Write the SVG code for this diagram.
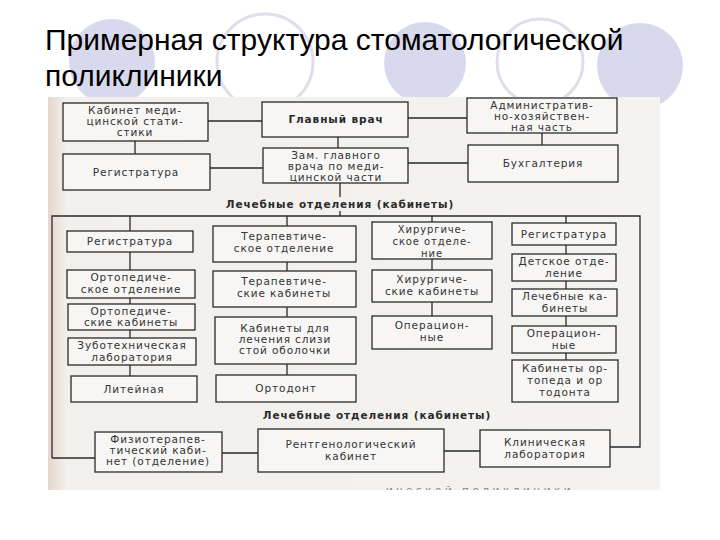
<svg xmlns="http://www.w3.org/2000/svg" width="720" height="540" viewBox="0 0 720 540">
<defs>
<style>
.bx{fill:#f7f6f4;stroke:#2a2a2a;stroke-width:1.3}
.t{font-family:"DejaVu Sans",sans-serif;font-size:10.5px;fill:#333;text-anchor:middle;letter-spacing:0.9px}
.s{font-size:10px}
.b{font-family:"DejaVu Sans",sans-serif;font-size:10.5px;font-weight:bold;fill:#2a2a2a;text-anchor:middle;letter-spacing:0.9px}
.ln{fill:none;stroke:#2a2a2a;stroke-width:1.3}
.fc{fill:#d9d9ee}
.oc{fill:none;stroke:#dedeec;stroke-width:3}
</style>
<linearGradient id="scan" x1="0" y1="0" x2="1" y2="0">
<stop offset="0" stop-color="#e7d6ce"/>
<stop offset="0.03" stop-color="#f2efec"/>
<stop offset="1" stop-color="#f4f3f1"/>
</linearGradient>
<clipPath id="cut"><rect x="48" y="97" width="612" height="393"/></clipPath>
</defs>
<rect width="720" height="540" fill="#ffffff"/>
<g id="decor">
<circle class="fc" cx="112" cy="62" r="43"/>
<circle class="oc" cx="265" cy="62" r="48"/>
<circle class="fc" cx="425" cy="63" r="41"/>
<circle class="oc" cx="540" cy="62" r="43"/>
<circle class="fc" cx="640" cy="66" r="43"/>
</g>
<g id="title" font-family="'Liberation Sans',Arial,sans-serif" font-size="30" fill="#000">
<text x="45" y="50">Примерная структура стоматологической</text>
<text x="45" y="86">поликлиники</text>
</g>
<rect x="48" y="97" width="612" height="393" fill="url(#scan)"/>
<g id="connectors">
<path class="ln" d="M208,121 H262 M135,141 V154 M210,168 H263 M338,137 V148 M408,118 H467 M542,133 V145 M408,163 H468 M340,183 V197 M340,211 V216"/>
<path class="ln" d="M52,458 V216 H640 V447 H610 M52,458 H95"/>
<path class="ln" d="M130,216 V231 M287,216 V226 M432,216 V222 M566,216 V223"/>
<path class="ln" d="M130,252 V270 M130,298 V304 M130,330 V338 M130,365 V376"/>
<path class="ln" d="M287,262 V271 M287,307 V317 M287,364 V375"/>
<path class="ln" d="M432,259 V270 M432,302 V316"/>
<path class="ln" d="M566,245 V254 M566,281 V289 M566,316 V326 M566,353 V360"/>
<path class="ln" d="M222,453 H258 M444,451 H480"/>
</g>
<g id="med_stat"><rect class="bx" x="63" y="103" width="145" height="38"/><text class="t" x="135" y="114">Кабинет меди-</text><text class="t" x="135" y="125">цинской стати-</text><text class="t" x="135" y="136">стики</text></g>
<g id="reg_top"><rect class="bx" x="63" y="154" width="147" height="36"/><text class="t" x="136" y="176">Регистратура</text></g>
<g id="glav"><rect class="bx" x="262" y="102" width="146" height="35"/><text class="b" x="336" y="123">Главный врач</text></g>
<g id="zam"><rect class="bx" x="263" y="148" width="145" height="35"/><text class="t" x="336" y="159">Зам. главного</text><text class="t" x="336" y="170">врача по меди-</text><text class="t" x="336" y="181">цинской части</text></g>
<g id="admin"><rect class="bx" x="467" y="98" width="150" height="35"/><text class="t" x="542" y="109">Административ-</text><text class="t" x="542" y="120">но-хозяйствен-</text><text class="t" x="542" y="131">ная часть</text></g>
<g id="buh"><rect class="bx" x="468" y="145" width="150" height="37"/><text class="t" x="543" y="167">Бухгалтерия</text></g>
<text id="label1" class="b" x="340" y="208">Лечебные отделения (кабинеты)</text>
<g id="c1_reg"><rect class="bx" x="67" y="231" width="126" height="21"/><text class="t" x="130" y="245">Регистратура</text></g>
<g id="c1_ortdep"><rect class="bx" x="67" y="270" width="128" height="28"/><text class="t" x="131" y="281">Ортопедиче-</text><text class="t" x="131" y="293">ское отделение</text></g>
<g id="c1_ortcab"><rect class="bx" x="68" y="304" width="127" height="26"/><text class="t" x="131" y="315">Ортопедиче-</text><text class="t" x="131" y="326">ские кабинеты</text></g>
<g id="c1_zubo"><rect class="bx" x="68" y="338" width="128" height="27"/><text class="t" x="132" y="349">Зуботехническая</text><text class="t" x="132" y="361">лаборатория</text></g>
<g id="c1_lit"><rect class="bx" x="71" y="376" width="126" height="26"/><text class="t" x="134" y="393">Литейная</text></g>
<g id="c2_terdep"><rect class="bx" x="213" y="226" width="143" height="36"/><text class="t" x="284" y="240">Терапевтиче-</text><text class="t" x="284" y="252">ское отделение</text></g>
<g id="c2_tercab"><rect class="bx" x="213" y="271" width="143" height="36"/><text class="t" x="284" y="285">Терапевтиче-</text><text class="t" x="284" y="297">ские кабинеты</text></g>
<g id="c2_sliz"><rect class="bx" x="215" y="317" width="141" height="47"/><text class="t" x="285" y="332">Кабинеты для</text><text class="t" x="285" y="343">лечения слизи</text><text class="t" x="285" y="354">стой оболочки</text></g>
<g id="c2_ortodont"><rect class="bx" x="216" y="375" width="140" height="27"/><text class="t" x="286" y="392">Ортодонт</text></g>
<g id="c3_hirdep"><rect class="bx" x="372" y="222" width="120" height="37"/><text class="t s" x="432" y="233">Хирургиче-</text><text class="t s" x="432" y="245">ское отделе-</text><text class="t s" x="432" y="257">ние</text></g>
<g id="c3_hircab"><rect class="bx" x="372" y="270" width="120" height="32"/><text class="t" x="432" y="283">Хирургиче-</text><text class="t" x="432" y="295">ские кабинеты</text></g>
<g id="c3_oper"><rect class="bx" x="372" y="316" width="120" height="33"/><text class="t" x="432" y="329">Операцион-</text><text class="t" x="432" y="341">ные</text></g>
<g id="c4_reg"><rect class="bx" x="512" y="223" width="104" height="22"/><text class="t" x="564" y="238">Регистратура</text></g>
<g id="c4_det"><rect class="bx" x="512" y="254" width="104" height="27"/><text class="t" x="564" y="265">Детское отде-</text><text class="t" x="564" y="277">ление</text></g>
<g id="c4_lech"><rect class="bx" x="512" y="289" width="105" height="27"/><text class="t" x="565" y="300">Лечебные ка-</text><text class="t" x="565" y="312">бинеты</text></g>
<g id="c4_oper"><rect class="bx" x="512" y="326" width="104" height="27"/><text class="t" x="564" y="337">Операцион-</text><text class="t" x="564" y="349">ные</text></g>
<g id="c4_ortoped"><rect class="bx" x="512" y="360" width="106" height="42"/><text class="t" x="565" y="372">Кабинеты ор-</text><text class="t" x="565" y="384">топеда и ор</text><text class="t" x="565" y="396">тодонта</text></g>
<text id="label2" class="b" x="377" y="419">Лечебные отделения (кабинеты)</text>
<g id="fizio"><rect class="bx" x="95" y="432" width="127" height="40"/><text class="t" x="158" y="443">Физиотерапев-</text><text class="t" x="158" y="454">тический каби-</text><text class="t" x="158" y="465">нет (отделение)</text></g>
<g id="rentgen"><rect class="bx" x="258" y="429" width="186" height="43"/><text class="t" x="351" y="448">Рентгенологический</text><text class="t" x="351" y="460">кабинет</text></g>
<g id="klin"><rect class="bx" x="480" y="430" width="130" height="37"/><text class="t" x="545" y="446">Клиническая</text><text class="t" x="545" y="458">лаборатория</text></g>
<g clip-path="url(#cut)"><text class="t" x="480" y="494" style="fill:#888;letter-spacing:3.5px">ической поликлиники</text></g>
</svg>
